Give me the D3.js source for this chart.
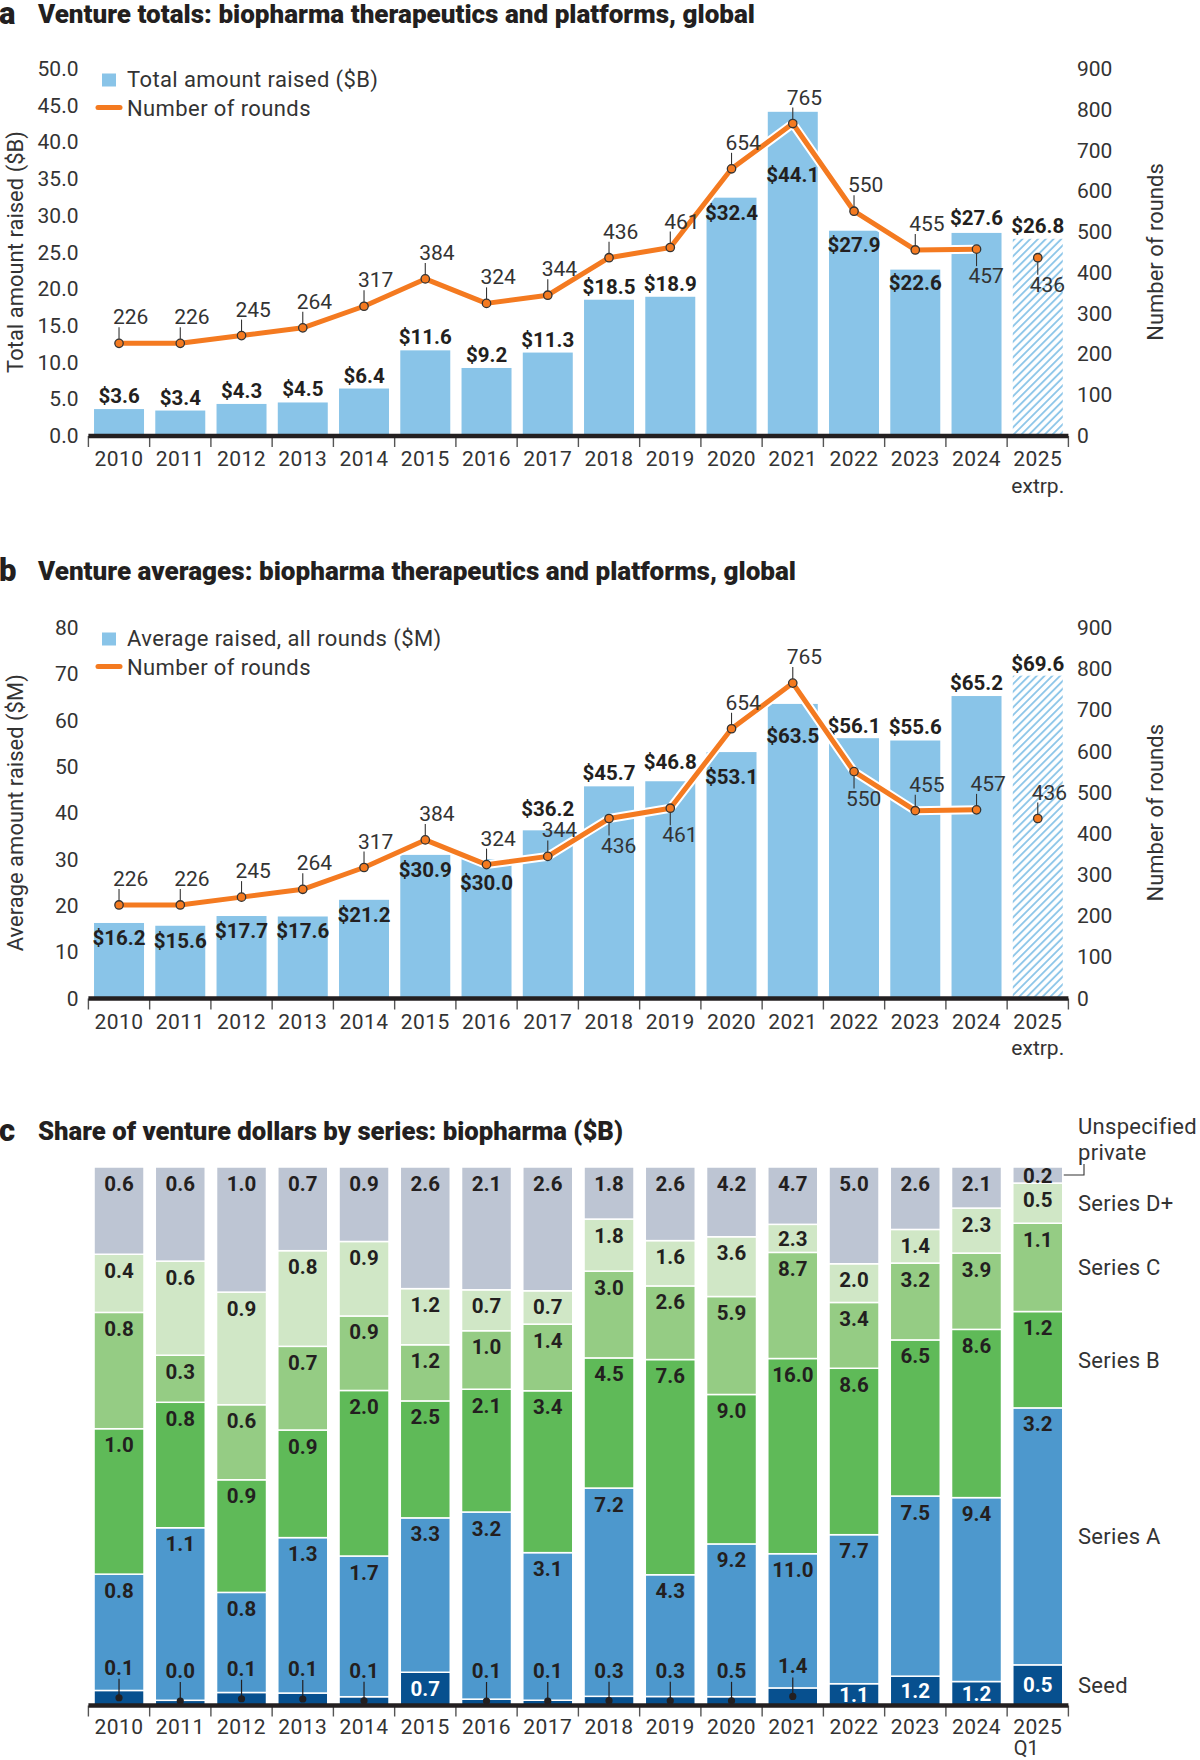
<!DOCTYPE html>
<html>
<head>
<meta charset="utf-8">
<script src="https://cdn.jsdelivr.net/npm/d3@7"></script>
<style>
  body { margin: 0; background: #fff; }
  svg { display: block; font-family: Roboto, "Noto Sans", sans-serif; }
</style>
</head>
<body>
<svg id="chart" width="1200" height="1760"></svg>
<script>
// ---- data ----
var years = ['2010', '2011', '2012', '2013', '2014', '2015', '2016', '2017',
  '2018', '2019', '2020', '2021', '2022', '2023', '2024', '2025']
var lastYearNoteAB = 'extrp.'
var lastYearNoteC = 'Q1'

var totalRaised = [3.6, 3.4, 4.3, 4.5, 6.4, 11.6, 9.2, 11.3, 18.5, 18.9, 32.4, 44.1, 27.9, 22.6, 27.6, 26.8]
var averageRaised = [16.2, 15.6, 17.7, 17.6, 21.2, 30.9, 30.0, 36.2, 45.7, 46.8, 53.1, 63.5, 56.1, 55.6, 65.2, 69.6]
var numberOfRounds = [226, 226, 245, 264, 317, 384, 324, 344, 436, 461, 654, 765, 550, 455, 457, 436]

var totalTicks = [0, 5, 10, 15, 20, 25, 30, 35, 40, 45, 50]
var averageTicks = [0, 10, 20, 30, 40, 50, 60, 70, 80]
var roundTicks = [0, 100, 200, 300, 400, 500, 600, 700, 800, 900]

var seriesNames = ['Seed', 'Series A', 'Series B', 'Series C', 'Series D+', 'Unspecified private']
var seedValues = [0.1, 0.03, 0.1, 0.1, 0.1, 0.7, 0.1, 0.1, 0.3, 0.3, 0.5, 1.4, 1.1, 1.2, 1.2, 0.5]
var seriesAValues = [0.8, 1.1, 0.8, 1.3, 1.7, 3.3, 3.2, 3.1, 7.2, 4.3, 9.2, 11.0, 7.7, 7.5, 9.4, 3.2]
var seriesBValues = [1.0, 0.8, 0.9, 0.9, 2.0, 2.5, 2.1, 3.4, 4.5, 7.6, 9.0, 16.0, 8.6, 6.5, 8.6, 1.2]
var seriesCValues = [0.8, 0.3, 0.6, 0.7, 0.9, 1.2, 1.0, 1.4, 3.0, 2.6, 5.9, 8.7, 3.4, 3.2, 3.9, 1.1]
var seriesDValues = [0.4, 0.6, 0.9, 0.8, 0.9, 1.2, 0.7, 0.7, 1.8, 1.6, 3.6, 2.3, 2.0, 1.4, 2.3, 0.5]
var unspecifiedValues = [0.6, 0.6, 1.0, 0.7, 0.9, 2.6, 2.1, 2.6, 1.8, 2.6, 4.2, 4.7, 5.0, 2.6, 2.1, 0.2]

// ---- styles ----
var INK = '#231f20'
var BAR_BLUE = '#89c4e8'
var ORANGE = '#f47a20'
var seriesColors = ['#07508f', '#4d98cd', '#5fba58', '#95cc84', '#d0e7c6', '#bdc5d3']
var TICK_FONT = 21
var LABEL_FONT = 20.5

var svg = d3.select('#chart')

var defs = svg.append('defs')
var hatch = defs.append('pattern')
  .attr('id', 'hatch')
  .attr('patternUnits', 'userSpaceOnUse')
  .attr('width', 5.5)
  .attr('height', 5.5)
  .attr('patternTransform', 'rotate(45)')
hatch.append('line')
  .attr('x1', 1).attr('y1', 0).attr('x2', 1).attr('y2', 5.5)
  .attr('stroke', BAR_BLUE)
  .attr('stroke-width', 1.8)

var x = d3.scaleBand()
  .domain(years)
  .range([88.4, 1068.4])
  .paddingInner(0.184)
  .paddingOuter(0.092)
var step = x.step()
var xLeft = x.range()[0]

function cx (year) {
  return x(year) + x.bandwidth() / 2
}

function addTitle (letter, text, baseline, width) {
  svg.append('text')
    .attr('x', -1)
    .attr('y', baseline + 1)
    .attr('font-size', 31)
    .attr('font-weight', 900)
    .attr('fill', INK)
    .text(letter)
  svg.append('text')
    .attr('x', 38)
    .attr('y', baseline)
    .attr('font-size', 25)
    .attr('font-weight', 900)
    .attr('textLength', width)
    .attr('lengthAdjust', 'spacingAndGlyphs')
    .attr('fill', INK)
    .text(text)
}

// bottom axis: thick baseline, boundary ticks and year labels
function addXAxis (baseY, labelDy) {
  var g = svg.append('g')
  d3.range(years.length + 1).forEach(function (i) {
    g.append('line')
      .attr('x1', xLeft + i * step).attr('x2', xLeft + i * step)
      .attr('y1', baseY).attr('y2', baseY + 11)
      .attr('stroke', '#555')
      .attr('stroke-width', 1.4)
  })
  g.append('line')
    .attr('x1', xLeft).attr('x2', xLeft + years.length * step)
    .attr('y1', baseY).attr('y2', baseY)
    .attr('stroke', INK)
    .attr('stroke-width', 4.5)
  g.selectAll('text.year')
    .data(years)
    .enter()
    .append('text')
    .attr('class', 'year')
    .attr('x', function (d) { return xLeft + (years.indexOf(d) + 0.5) * step })
    .attr('y', baseY + labelDy)
    .attr('text-anchor', 'middle')
    .attr('font-size', TICK_FONT)
    .attr('letter-spacing', 0.4)
    .attr('fill', '#333')
    .text(function (d) { return d })
  return g
}

function drawComboPanel (cfg) {
  var g = svg.append('g')
  var y = d3.scaleLinear().domain(cfg.domain).range([cfg.bottom, cfg.top])
  var r = d3.scaleLinear().domain([0, 900]).range([cfg.bottom, cfg.top])

  // left ticks
  g.selectAll('text.lt')
    .data(cfg.ticks)
    .enter()
    .append('text')
    .attr('x', 78.5)
    .attr('y', function (d) { return y(d) + 7.5 })
    .attr('text-anchor', 'end')
    .attr('font-size', TICK_FONT)
    .attr('fill', '#333')
    .text(cfg.tickFormat)
  // right ticks
  g.selectAll('text.rt')
    .data(roundTicks)
    .enter()
    .append('text')
    .attr('x', 1077)
    .attr('y', function (d) { return r(d) + 7.5 })
    .attr('font-size', TICK_FONT)
    .attr('fill', '#333')
    .text(function (d) { return d })

  var mid = (cfg.top + cfg.bottom) / 2
  g.append('text')
    .attr('transform', 'translate(23,' + mid + ') rotate(-90)')
    .attr('text-anchor', 'middle')
    .attr('font-size', 22)
    .attr('fill', '#333')
    .text(cfg.leftTitle)
  g.append('text')
    .attr('transform', 'translate(1163,' + mid + ') rotate(-90)')
    .attr('text-anchor', 'middle')
    .attr('font-size', 22)
    .attr('fill', '#333')
    .text('Number of rounds')

  // legend
  g.append('rect')
    .attr('x', 102).attr('y', cfg.top + 5)
    .attr('width', 14).attr('height', 13)
    .attr('fill', BAR_BLUE)
  g.append('text')
    .attr('x', 127).attr('y', cfg.top + 18)
    .attr('font-size', 22)
    .attr('letter-spacing', 0.4)
    .attr('fill', '#333')
    .text(cfg.legendBar)
  g.append('line')
    .attr('x1', 98).attr('x2', 120)
    .attr('y1', cfg.top + 39).attr('y2', cfg.top + 39)
    .attr('stroke', ORANGE)
    .attr('stroke-width', 5)
    .attr('stroke-linecap', 'round')
  g.append('text')
    .attr('x', 127).attr('y', cfg.top + 47)
    .attr('font-size', 22)
    .attr('letter-spacing', 0.4)
    .attr('fill', '#333')
    .text('Number of rounds')

  // bars
  var last = years.length - 1
  g.selectAll('rect.bar')
    .data(cfg.values)
    .enter()
    .append('rect')
    .attr('x', function (d, i) { return x(years[i]) })
    .attr('y', function (d) { return y(d) })
    .attr('width', x.bandwidth())
    .attr('height', function (d) { return cfg.bottom - y(d) })
    .attr('fill', function (d, i) { return i === last ? 'url(#hatch)' : BAR_BLUE })

  // bar value labels
  g.selectAll('text.val')
    .data(cfg.values)
    .enter()
    .append('text')
    .attr('x', function (d, i) { return cx(years[i]) })
    .attr('y', function (d, i) {
      var off = cfg.barLabelOffset[years[i]]
      return y(d) + (off === undefined ? -6 : off)
    })
    .attr('text-anchor', 'middle')
    .attr('font-size', LABEL_FONT)
    .attr('font-weight', 700)
    .attr('fill', INK)
    .text(function (d) { return '$' + d.toFixed(1) })

  // rounds line (2025 extrapolation is shown as a lone point)
  var line = d3.line()
    .x(function (d, i) { return cx(years[i]) })
    .y(function (d) { return r(d) })
  var lineData = numberOfRounds.slice(0, last)
  g.append('path')
    .attr('d', line(lineData))
    .attr('fill', 'none')
    .attr('stroke', '#fff')
    .attr('stroke-width', 9)
    .attr('stroke-linejoin', 'round')
  g.append('path')
    .attr('d', line(lineData))
    .attr('fill', 'none')
    .attr('stroke', ORANGE)
    .attr('stroke-width', 5)
    .attr('stroke-linejoin', 'round')

  numberOfRounds.forEach(function (v, i) {
    var px = cx(years[i])
    var py = r(v)
    var below = cfg.roundsBelow.indexOf(years[i]) >= 0
    g.append('line')
      .attr('x1', px).attr('x2', px)
      .attr('y1', below ? py + 4 : py - 4)
      .attr('y2', below ? py + 17 : py - 16)
      .attr('stroke', '#333')
      .attr('stroke-width', 1.1)
    g.append('text')
      .attr('x', px - (below ? 8 : 6))
      .attr('y', below ? py + 34 : py - 19)
      .attr('font-size', TICK_FONT)
      .attr('fill', '#333')
      .text(v)
    g.append('circle')
      .attr('cx', px).attr('cy', py)
      .attr('r', 4.2)
      .attr('fill', ORANGE)
      .attr('stroke', '#333')
      .attr('stroke-width', 1.3)
  })

  var axis = addXAxis(cfg.bottom + 0.5, 30)
  axis.append('text')
    .attr('x', cx(years[last]))
    .attr('y', cfg.bottom + 57)
    .attr('text-anchor', 'middle')
    .attr('font-size', TICK_FONT)
    .attr('fill', '#333')
    .text(lastYearNoteAB)
}

// ---- panel a ----
addTitle('a', 'Venture totals: biopharma therapeutics and platforms, global', 23, 717)
drawComboPanel({
  domain: [0, 50],
  top: 68.5,
  bottom: 435.5,
  ticks: totalTicks,
  tickFormat: d3.format('.1f'),
  leftTitle: 'Total amount raised ($B)',
  legendBar: 'Total amount raised ($B)',
  values: totalRaised,
  barLabelOffset: { 2020: 22, 2021: 70, 2022: 21, 2023: 20, 2024: -8 },
  roundsBelow: ['2024', '2025']
})

// ---- panel b ----
addTitle('b', 'Venture averages: biopharma therapeutics and platforms, global', 580, 758)
drawComboPanel({
  domain: [0, 80],
  top: 627.5,
  bottom: 998,
  ticks: averageTicks,
  tickFormat: d3.format('d'),
  leftTitle: 'Average amount raised ($M)',
  legendBar: 'Average raised, all rounds ($M)',
  values: averageRaised,
  barLabelOffset: {
    2010: 22, 2011: 22, 2012: 22, 2013: 22, 2014: 22, 2015: 22, 2016: 31,
    2017: -14, 2018: -6, 2019: -12, 2020: 32, 2021: 39, 2022: -5, 2023: -7, 2024: -6, 2025: -5
  },
  roundsBelow: ['2018', '2019', '2022']
})

// ---- panel c ----
addTitle('c', 'Share of venture dollars by series: biopharma ($B)', 1140, 585)
var cTop = 1167
var cBottom = 1705
var seriesValues = [seedValues, seriesAValues, seriesBValues, seriesCValues, seriesDValues, unspecifiedValues]
var rows = years.map(function (yr, i) {
  var row = { year: yr }
  seriesNames.forEach(function (s, k) { row[s] = seriesValues[k][i] })
  return row
})
var stacked = d3.stack()
  .keys(seriesNames)
  .offset(d3.stackOffsetExpand)(rows)
var yc = d3.scaleLinear().domain([0, 1]).range([cBottom, cTop])

var gc = svg.append('g')
var gcBars = gc.append('g')
var gcLabels = gc.append('g')

stacked.forEach(function (layer, k) {
  gcBars.append('g')
    .selectAll('rect')
    .data(layer)
    .enter()
    .append('rect')
    .attr('x', function (d) { return x(d.data.year) })
    .attr('y', function (d) { return yc(d[1]) })
    .attr('width', x.bandwidth())
    .attr('height', function (d) { return yc(d[0]) - yc(d[1]) })
    .attr('fill', seriesColors[k])
    .attr('stroke', '#fff')
    .attr('stroke-width', 1.5)

  layer.forEach(function (d) {
    var top = yc(d[1])
    var bot = yc(d[0])
    var h = bot - top
    var val = d.data[seriesNames[k]]
    var px = cx(d.data.year)
    var txt = val.toFixed(1)
    if (k === 0) {
      if (h > 18) {
        gcLabels.append('text')
          .attr('x', px).attr('y', (top + bot) / 2 + 7.5)
          .attr('text-anchor', 'middle')
          .attr('font-size', LABEL_FONT)
          .attr('font-weight', 700)
          .attr('fill', '#fff')
          .text(txt)
      } else {
        // thin seed slices get a dot and a leader up to the value
        var dotY = Math.min((top + bot) / 2, cBottom - 4)
        gcLabels.append('line')
          .attr('x1', px).attr('x2', px)
          .attr('y1', dotY).attr('y2', dotY - 19)
          .attr('stroke', INK)
          .attr('stroke-width', 1.2)
        gcLabels.append('circle')
          .attr('cx', px).attr('cy', dotY)
          .attr('r', 3.6)
          .attr('fill', INK)
        gcLabels.append('text')
          .attr('x', px).attr('y', dotY - 23)
          .attr('text-anchor', 'middle')
          .attr('font-size', LABEL_FONT)
          .attr('font-weight', 700)
          .attr('fill', INK)
          .text(txt)
      }
    } else {
      gcLabels.append('text')
        .attr('x', px)
        .attr('y', (h < 30 ? top + h / 2 : top + 16) + 7.5)
        .attr('text-anchor', 'middle')
        .attr('font-size', LABEL_FONT)
        .attr('font-weight', 700)
        .attr('fill', INK)
        .text(txt)
    }
  })
})

// series names beside the last bar
var lastYear = years[years.length - 1]
var barRight = x(lastYear) + x.bandwidth()
stacked.forEach(function (layer, k) {
  var d = layer[layer.length - 1]
  var midY = (yc(d[0]) + yc(d[1])) / 2
  if (k === seriesNames.length - 1) {
    gc.append('path')
      .attr('d', 'M' + (barRight + 1) + ',' + midY + 'H' + 1084 + 'V' + (midY - 11))
      .attr('fill', 'none')
      .attr('stroke', '#333')
      .attr('stroke-width', 1.1)
    gc.append('text')
      .attr('x', 1078).attr('y', midY - 41)
      .attr('font-size', 22)
      .attr('letter-spacing', 0.3)
      .attr('fill', '#333')
      .text('Unspecified')
    gc.append('text')
      .attr('x', 1078).attr('y', midY - 15)
      .attr('font-size', 22)
      .attr('letter-spacing', 0.3)
      .attr('fill', '#333')
      .text('private')
  } else {
    gc.append('text')
      .attr('x', 1078).attr('y', midY + 8)
      .attr('font-size', 22)
      .attr('letter-spacing', 0.3)
      .attr('fill', '#333')
      .text(seriesNames[k])
  }
})

var axisC = addXAxis(cBottom + 0.5, 28)
axisC.append('text')
  .attr('x', cx(lastYear) - 24)
  .attr('y', cBottom + 50)
  .attr('font-size', 20)
  .attr('fill', '#333')
  .text(lastYearNoteC)
</script>
</body>
</html>
